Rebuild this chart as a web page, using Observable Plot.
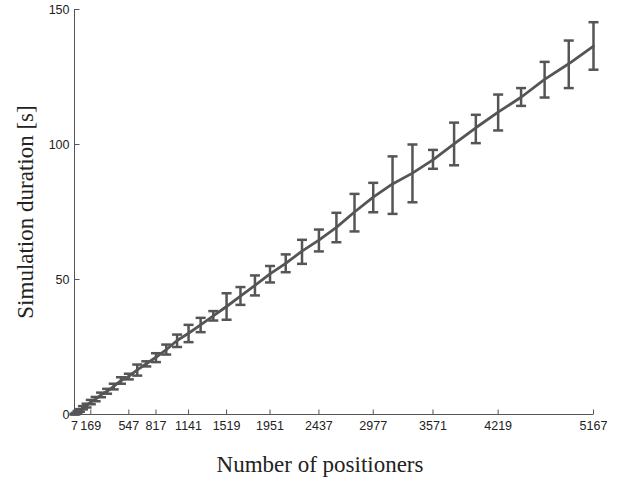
<!DOCTYPE html>
<html>
<head>
<meta charset="utf-8">
<script src="https://cdn.jsdelivr.net/npm/d3@7"></script>
<script src="https://cdn.jsdelivr.net/npm/@observablehq/plot@0.6"></script>
<style>
  html, body { margin: 0; padding: 0; background: #fff; }
  #chart { width: 626px; height: 481px; }
</style>
</head>
<body>
<div id="chart"></div>
<script>
// Number of positioners (centered hexagonal numbers)
const positioners = [7, 19, 37, 61, 91, 127, 169, 217, 271, 331, 397, 469, 547, 631, 721, 817, 919, 1027, 1141, 1261, 1387, 1519, 1657, 1801, 1951, 2107, 2269, 2437, 2611, 2791, 2977, 3169, 3367, 3571, 3781, 3997, 4219, 4447, 4681, 4921, 5167];
// Mean simulation duration [s]
const meanDuration = [0.1, 0.3, 0.9, 1.5, 2.5, 3.3, 4.6, 5.7, 7.3, 8.6, 10.4, 12.6, 14.1, 16.5, 18.8, 21.2, 24.0, 27.4, 30.1, 33.2, 36.5, 40.0, 43.8, 47.8, 52.1, 56.0, 60.5, 64.6, 69.3, 75.0, 80.5, 85.4, 89.4, 94.3, 100.2, 106.2, 112.0, 117.5, 124.1, 129.9, 136.4];
// Lower end of error bar
const lowDuration = [0.0, 0.1, 0.5, 1.0, 1.9, 2.6, 3.8, 4.9, 6.4, 7.7, 9.3, 11.4, 13.0, 14.4, 17.8, 19.4, 22.2, 25.0, 26.8, 30.5, 34.8, 35.1, 40.6, 44.1, 48.9, 52.7, 55.8, 60.4, 63.8, 67.8, 74.9, 74.3, 78.6, 91.0, 92.3, 100.5, 105.2, 114.3, 117.4, 120.9, 127.7];
// Upper end of error bar
const highDuration = [0.2, 0.6, 1.3, 2.0, 3.1, 4.0, 5.4, 6.5, 8.1, 9.5, 11.4, 13.8, 15.1, 18.5, 19.7, 22.7, 25.9, 29.6, 33.2, 35.8, 38.3, 44.9, 47.2, 51.5, 55.0, 59.3, 64.7, 68.5, 74.7, 81.7, 85.8, 95.6, 100.0, 98.0, 108.1, 111.0, 118.5, 120.9, 130.6, 138.5, 145.3];

const xTicks = [7, 169, 547, 817, 1141, 1519, 1951, 2437, 2977, 3571, 4219, 5167];
const yTicks = [0, 50, 100, 150];
const xLabel = "Number of positioners";
const yLabel = "Simulation duration [s]";

const rows = positioners.map((n, i) => ({n, mean: meanDuration[i], lo: lowDuration[i], hi: highDuration[i]}));

const ink = "#555555";
const rad = (size) => Math.sqrt(size / Math.PI);
const capSymbol = {draw(ctx, size) { const r = rad(size); ctx.moveTo(-r, 0); ctx.lineTo(r, 0); }};
const tickUp = {draw(ctx, size) { const r = rad(size); ctx.moveTo(0, 0); ctx.lineTo(0, -r); }};
const tickRight = {draw(ctx, size) { const r = rad(size); ctx.moveTo(0, 0); ctx.lineTo(r, 0); }};

const chart = Plot.plot({
  width: 626,
  height: 481,
  marginLeft: 74,
  marginRight: 33,
  marginTop: 9,
  marginBottom: 67,
  style: {fontFamily: "'Liberation Sans', Arial, sans-serif", fontSize: "12.5px", color: "#222", background: "#fff"},
  x: {domain: [7, 5167]},
  y: {domain: [0, 150]},
  marks: [
    Plot.ruleY([0], {stroke: ink, strokeWidth: 1}),
    Plot.ruleX([7], {stroke: ink, strokeWidth: 1}),
    Plot.dot(xTicks, {x: d => d, y: () => 0, r: 5, symbol: tickUp, stroke: ink, strokeWidth: 1, fill: "none"}),
    Plot.dot(yTicks, {y: d => d, x: () => 7, r: 5, symbol: tickRight, stroke: ink, strokeWidth: 1, fill: "none"}),
    Plot.axisX({ticks: xTicks, tickFormat: d => String(d), tickSize: 0, tickPadding: 7, fontSize: 12.5, fill: "#222", label: null}),
    Plot.axisY({ticks: yTicks, tickFormat: d => String(d), tickSize: 0, tickPadding: 5, fontSize: 12.5, fill: "#222", label: null}),
    Plot.ruleX(rows, {x: "n", y1: "lo", y2: "hi", stroke: ink, strokeWidth: 2.5}),
    Plot.dot(rows, {x: "n", y: "lo", r: 5, symbol: capSymbol, stroke: ink, strokeWidth: 2.5, fill: "none"}),
    Plot.dot(rows, {x: "n", y: "hi", r: 5, symbol: capSymbol, stroke: ink, strokeWidth: 2.5, fill: "none"}),
    Plot.line(rows, {x: "n", y: "mean", stroke: ink, strokeWidth: 2.8}),
    Plot.text([xLabel], {frameAnchor: "bottom", dy: 50, dx: -14, lineAnchor: "middle", textAnchor: "middle", fontFamily: "'Liberation Serif', 'Times New Roman', serif", fontSize: 23, fill: "#222"}),
    Plot.text([yLabel], {frameAnchor: "left", dx: -49, rotate: -90, lineAnchor: "middle", textAnchor: "middle", fontFamily: "'Liberation Serif', 'Times New Roman', serif", fontSize: 23, fill: "#222"})
  ]
});
document.getElementById("chart").appendChild(chart);
</script>
</body>
</html>
